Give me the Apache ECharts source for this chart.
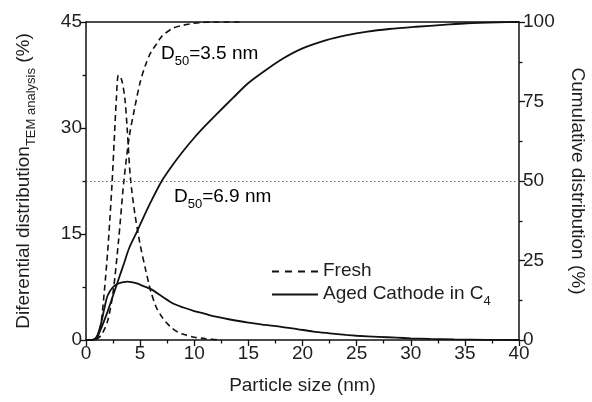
<!DOCTYPE html>
<html>
<head>
<meta charset="utf-8">
<script src="https://cdn.jsdelivr.net/npm/echarts@6/dist/echarts.min.js"></script>
<style>
  html, body { margin: 0; padding: 0; background: #fff; }
  #chart { width: 592px; height: 402px; }
</style>
</head>
<body>
<div id="chart"></div>
<script>
// Particle size axis ticks (nm) and value-axis ticks
var sizeTicks = [0, 5, 10, 15, 20, 25, 30, 35, 40];
var diffTicks = [0, 15, 30, 45];
var cumTicks = [0, 25, 50, 75, 100];

// Fresh catalyst: differential distribution (%)
var freshDiffSize = [0, 0.8, 1.1, 1.4, 1.7, 2.0, 2.2, 2.4, 2.6, 2.8, 3.0, 3.3, 3.6, 3.8, 4.1, 4.5, 5.0, 5.5, 5.8, 6.0, 6.5, 7.0, 7.4, 8.0, 8.5, 9.0, 10.0, 11.0, 12.4];
var freshDiff     = [0, 0, 0.5, 2.5, 7, 12.5, 17, 22, 28, 34, 37.5, 36.8, 34, 30, 23, 18, 13.5, 10, 8, 6.8, 4.6, 3.3, 2.5, 1.6, 1.1, 0.8, 0.4, 0.2, 0];

// Fresh catalyst: cumulative distribution (%)
var freshCumSize = [0, 0.8, 1.2, 1.5, 2.0, 2.5, 3.0, 3.5, 4.0, 4.5, 5.0, 5.5, 6.0, 6.5, 7.0, 8.0, 9.0, 10.0, 11.0, 12.0, 14.2];
var freshCum     = [0, 0, 0.8, 2, 6, 15, 31, 50, 64, 73, 81, 86.5, 90.5, 93, 95.5, 98, 99, 99.6, 99.9, 100, 100];

// Aged cathode in C4: differential distribution (%)
var agedDiffSize = [0, 0.6, 1.0, 1.4, 1.7, 2.0, 2.5, 3.0, 3.5, 3.8, 4.2, 4.7, 5.2, 6.0, 7.0, 8.0, 9.0, 10.0, 11.0, 12.0, 13.3, 15.0, 16.5, 17.9, 19.5, 21.0, 22.5, 24.0, 25.0, 27.0, 28.7, 30.0, 31.8, 34.0, 37.0, 40.0];
var agedDiff     = [0, 0, 0.5, 2.4, 4.5, 6.3, 7.5, 8.0, 8.2, 8.25, 8.2, 8.0, 7.7, 7.2, 6.2, 5.2, 4.6, 4.1, 3.7, 3.3, 2.9, 2.45, 2.15, 1.9, 1.55, 1.2, 0.95, 0.72, 0.6, 0.45, 0.33, 0.24, 0.15, 0.08, 0.03, 0];

// Aged cathode in C4: cumulative distribution (%)
var agedCumSize = [0, 0.6, 1.0, 1.5, 2.0, 2.5, 3.0, 3.5, 4.0, 4.7, 5.3, 6.0, 7.0, 8.0, 9.0, 10.0, 11.0, 12.0, 13.6, 15.0, 16.5, 18.2, 20.0, 22.2, 24.0, 26.0, 28.0, 30.5, 33.0, 35.2, 38.0, 40.0];
var agedCum     = [0, 0, 0.8, 4.5, 9, 14, 19, 24, 29, 34, 38.5, 43.5, 50, 55, 59.5, 63.6, 67.3, 70.8, 76.2, 80.8, 84.6, 88.5, 91.7, 94.3, 95.8, 97, 97.8, 98.5, 99.1, 99.6, 99.9, 100];

// Median diameters
var d50Fresh = 3.5;
var d50Aged = 6.9;

var legendNames = ['Fresh', 'Aged Cathode in C4'];

function pairs(xs, ys) {
  return xs.map(function (x, i) { return [x, ys[i]]; });
}

var INK = '#111';
var TXT = '#1e1e1e';
var FONT = 'Liberation Sans, Arial, sans-serif';

var subStyle = { fontSize: 13, fontFamily: FONT, color: TXT, lineHeight: 13, padding: [11, 0, 0, 0], verticalAlign: 'top' };
var mainStyle = { fontSize: 19, fontFamily: FONT, color: TXT, lineHeight: 21, verticalAlign: 'top' };

function valueAxisBase(min, max, step, ticks) {
  return {
    type: 'value',
    min: min, max: max, interval: step,
    axisLine: { show: true, onZero: false, lineStyle: { color: INK, width: 1.5 } },
    axisTick: { show: true, inside: false, length: 6, lineStyle: { color: INK, width: 1.3 } },
    minorTick: { show: true, splitNumber: 2, length: 3.5, lineStyle: { color: INK, width: 1.3 } },
    splitLine: { show: false },
    axisLabel: {
      show: true, fontSize: 19, fontFamily: FONT, color: TXT, margin: 4,
      formatter: function (v) { return ticks.indexOf(v) >= 0 ? String(v) : ''; }
    }
  };
}

var chart = echarts.init(document.getElementById('chart'), null, { renderer: 'canvas' });

var xBottom = valueAxisBase(sizeTicks[0], sizeTicks[sizeTicks.length - 1], 5, sizeTicks);
xBottom.position = 'bottom';
xBottom.name = 'Particle size (nm)';
xBottom.nameLocation = 'middle';
xBottom.nameGap = 36;
xBottom.nameTextStyle = { fontSize: 19, fontFamily: FONT, color: TXT };

var xTop = {
  type: 'value', position: 'top', min: 0, max: 40,
  axisLine: { show: true, onZero: false, lineStyle: { color: INK, width: 1.5 } },
  axisTick: { show: false }, axisLabel: { show: false }, splitLine: { show: false }
};

var yLeft = valueAxisBase(diffTicks[0], diffTicks[diffTicks.length - 1], 15, diffTicks);
yLeft.position = 'left';
yLeft.name = '{m|Diferential distribution}{s|TEM analysis}{m| (%)}';
yLeft.nameLocation = 'middle';
yLeft.nameGap = 51;
yLeft.nameRotate = 90;
yLeft.nameTextStyle = { rich: { m: mainStyle, s: subStyle } };

var yRight = valueAxisBase(cumTicks[0], cumTicks[cumTicks.length - 1], 25, cumTicks);
yRight.position = 'right';
yRight.name = 'Cumulative distribution (%)';
yRight.nameLocation = 'middle';
yRight.nameGap = 49;
yRight.nameRotate = -90;
yRight.nameTextStyle = { fontSize: 19, fontFamily: FONT, color: TXT };

var dashed = { color: INK, width: 1.6, type: [6, 4] };
var solid = { color: INK, width: 1.8, type: 'solid' };

var option = {
  animation: false,
  backgroundColor: '#fff',
  grid: { left: 86, right: 73, top: 22, bottom: 62, containLabel: false, outerBoundsMode: 'none' },
  xAxis: [xBottom, xTop],
  yAxis: [yLeft, yRight],
  legend: {
    data: [
      { name: legendNames[0], lineStyle: { type: [7, 6] } },
      { name: legendNames[1] }
    ],
    orient: 'vertical',
    left: 266, top: 256,
    itemWidth: 46, itemHeight: 14, itemGap: 4,
    selectedMode: false,
    itemStyle: { opacity: 0, borderWidth: 0 },
    formatter: function (name) {
      return name === 'Aged Cathode in C4' ? '{m|Aged Cathode in C}{s|4}' : '{m|' + name + '}';
    },
    textStyle: { rich: { m: mainStyle, s: subStyle } }
  },
  series: [
    {
      name: legendNames[0], type: 'line', xAxisIndex: 0, yAxisIndex: 0,
      data: pairs(freshDiffSize, freshDiff), smooth: 0.3, showSymbol: false, symbol: 'none',
      lineStyle: dashed, itemStyle: { color: INK }
    },
    {
      name: legendNames[0], type: 'line', xAxisIndex: 0, yAxisIndex: 1,
      data: pairs(freshCumSize, freshCum), smooth: 0.3, showSymbol: false, symbol: 'none',
      lineStyle: dashed, itemStyle: { color: INK }
    },
    {
      name: legendNames[1], type: 'line', xAxisIndex: 0, yAxisIndex: 0,
      data: pairs(agedDiffSize, agedDiff), smooth: 0.3, showSymbol: false, symbol: 'none',
      lineStyle: solid, itemStyle: { color: INK }
    },
    {
      name: legendNames[1], type: 'line', xAxisIndex: 0, yAxisIndex: 1,
      data: pairs(agedCumSize, agedCum), smooth: 0.3, showSymbol: false, symbol: 'none',
      lineStyle: solid, itemStyle: { color: INK },
      markLine: {
        silent: true, symbol: ['none', 'none'], label: { show: false },
        lineStyle: { color: '#666', width: 1, type: [1.5, 2.5] },
        data: [{ yAxis: 50 }]
      }
    }
  ],
  graphic: [
    {
      type: 'text', left: 161, top: 44,
      style: {
        text: '{m|D}{s|50}{m|=' + d50Fresh + ' nm}',
        rich: { m: mainStyle, s: subStyle }
      }
    },
    {
      type: 'text', left: 174, top: 187,
      style: {
        text: '{m|D}{s|50}{m|=' + d50Aged + ' nm}',
        rich: { m: mainStyle, s: subStyle }
      }
    }
  ]
};

chart.setOption(option);
</script>
</body>
</html>
